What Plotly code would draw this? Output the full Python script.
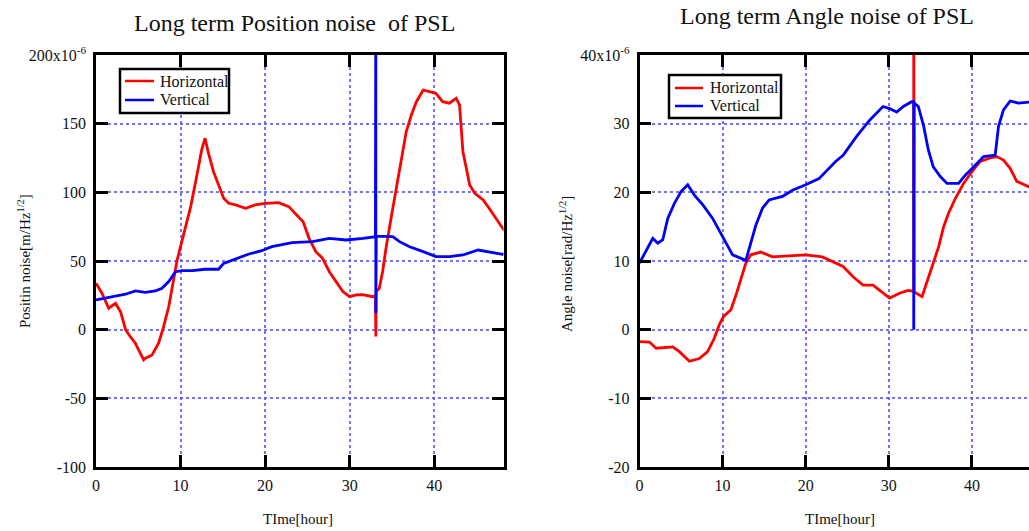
import plotly.graph_objects as go
from plotly.subplots import make_subplots

# ---- Position noise (left panel), units of 1e-6 m/Hz^1/2 ----
pos_h_time = [0, 0.7, 1.5, 2.3, 2.9, 3.5, 4.06, 4.65, 5.25, 5.64, 5.8, 6.63, 7.4, 8.0, 8.6,
              9.2, 9.6, 10.0, 10.6, 11.2, 11.75, 12.15, 12.5, 12.9, 13.3, 13.9, 14.5, 15.1,
              15.7, 16.5, 17.7, 18.85, 20.0, 21.6, 22.8, 24.0, 24.5, 25.2, 26.0, 26.8, 27.6,
              28.4, 29.2, 30.0, 30.8, 31.55, 32.7, 33.05, 33.1, 33.15, 33.5, 33.9, 34.3,
              34.9, 35.5, 36.1, 36.7, 37.3, 37.9, 38.7, 39.4, 40.2, 41.0, 41.8, 42.6, 43.0,
              43.2, 43.4, 43.8, 44.2, 44.8, 45.8, 46.5, 47.3, 48.1, 48.3]
pos_h_vals = [33.8, 26.5, 15.6, 19.2, 13.1, 0, -5.1, -9.9, -17.2, -22, -21, -18.4, -9.9, 2.2,
              16.7, 36.2, 50.8, 60.4, 75, 89.6, 106.6, 118.7, 130.9, 139.4, 128.5, 115, 105.4,
              95.7, 92, 90.8, 88.4, 90.8, 92, 92.5, 89.6, 82.3, 78.6, 66.5, 56.8, 52, 42.2,
              35, 27.7, 24, 25.3, 25.5, 24, 25, -5, 28, 30, 42.2, 59.3, 81.1, 103, 122.3,
              144.2, 156.3, 166, 174.5, 173.3, 172.1, 166, 164.9, 168.5, 163.6, 146.6, 129.6,
              117.5, 105.4, 99.3, 94.4, 88.4, 81.1, 73.8, 72]

pos_v_time = [0, 1.1, 2.3, 3.5, 4.65, 5.84, 7.0, 7.8, 8.6, 9.4, 10.2, 11.4, 12.9, 14.5, 15.1,
              16.5, 18.1, 19.6, 20.8, 23.2, 25.6, 27.6, 29.6, 31.6, 33.05, 33.1, 33.1, 33.15,
              33.9, 35.1, 35.9, 37.1, 38.7, 40.2, 41.8, 43.4, 45.2, 46.2, 48.1, 48.3]
pos_v_vals = [21.6, 22.9, 24.5, 25.8, 28.2, 27.2, 28.2, 30.1, 35, 42.2, 43, 43, 44, 44, 48.3,
              51.3, 55.1, 57.5, 60.4, 63.4, 64.1, 66.5, 65.3, 66.5, 67.7, 260, 12, 68, 68,
              67.7, 64.1, 60.4, 56.8, 53.2, 53.2, 54.4, 58, 56.8, 54.9, 55]

# ---- Angle noise (right panel), units of 1e-6 rad/Hz^1/2 ----
ang_h_time = [0, 1.2, 2.0, 2.8, 4.0, 4.8, 6.0, 7.2, 8.2, 9.0, 9.6, 10.1, 11.0, 11.6, 12.2,
              12.8, 13.4, 14.6, 16.0, 18.0, 20.0, 22.0, 23.6, 24.5, 25.7, 26.9, 28.1, 29.3,
              30.1, 31.3, 32.3, 33.0, 33.0, 33.05, 34.0, 34.75, 35.35, 36.0, 36.6, 37.2,
              38.0, 39.0, 40.0, 41.0, 42.2, 43.0, 43.8, 44.6, 45.4, 46.9, 47.5]
ang_h_vals = [-1.75, -1.8, -2.7, -2.6, -2.5, -3.2, -4.6, -4.2, -3.2, -1.25, 0.7, 1.9, 2.9,
              5.0, 7.5, 9.7, 10.9, 11.3, 10.6, 10.7, 10.9, 10.6, 9.7, 9.2, 7.7, 6.5, 6.5,
              5.3, 4.6, 5.3, 5.7, 5.6, 48, 5.5, 4.8, 7.7, 9.7, 12.1, 15.0, 17.0, 19.1, 21.3,
              23.0, 24.5, 25.0, 25.2, 24.7, 23.5, 21.6, 20.8, 20.5]

ang_v_time = [0, 0.78, 1.6, 2.2, 2.8, 3.4, 4.2, 5.0, 5.8, 6.6, 7.6, 8.8, 10.0, 11.2, 12.8,
              13.4, 14.0, 14.8, 15.6, 17.2, 18.4, 20.0, 21.6, 23.6, 24.5, 26.1, 27.7, 29.3,
              30.1, 30.95, 31.75, 32.75, 33.0, 33.0, 33.05, 33.55, 34.2, 34.75, 35.35, 36.2,
              37.0, 38.4, 39.2, 40.2, 41.4, 42.8, 43.2, 43.8, 44.6, 45.6, 46.9, 47.5]
ang_v_vals = [9.7, 11.4, 13.3, 12.6, 13.1, 16.2, 18.4, 20.1, 21.1, 19.6, 18.2, 16.2, 13.5,
              10.9, 10.1, 12.8, 15.2, 17.7, 18.9, 19.4, 20.3, 21.1, 22.0, 24.5, 25.4, 28.1,
              30.5, 32.5, 32.2, 31.7, 32.5, 33.2, 33.2, 0, 33.0, 32.5, 29.6, 26.2, 23.7,
              22.3, 21.3, 21.3, 22.5, 23.7, 25.2, 25.4, 29.6, 32.0, 33.3, 33.0, 33.2, 33.2]

x_ticks = [0, 10, 20, 30, 40]
pos_ticks = [-100, -50, 0, 50, 100, 150, 200]
pos_ticktext = ["-100", "-50", "0", "50", "100", "150", "200x10<sup>-6</sup>"]
ang_ticks = [-20, -10, 0, 10, 20, 30, 40]
ang_ticktext = ["-20", "-10", "0", "10", "20", "30", "40x10<sup>-6</sup>"]
series_names = ["Horizontal", "Vertical"]

RED = "#ff0000"
BLUE = "#0000ff"
INK = "#111111"
FONT = "Liberation Serif"
W, H = 1029, 531

fig = make_subplots(rows=1, cols=2)

fig.add_trace(go.Scatter(x=pos_h_time, y=pos_h_vals, mode="lines", name=series_names[0],
                         line=dict(color=RED, width=2.8)), row=1, col=1)
fig.add_trace(go.Scatter(x=pos_v_time, y=pos_v_vals, mode="lines", name=series_names[1],
                         line=dict(color=BLUE, width=2.8)), row=1, col=1)
fig.add_trace(go.Scatter(x=ang_h_time, y=ang_h_vals, mode="lines", name=series_names[0],
                         line=dict(color=RED, width=2.8)), row=1, col=2)
fig.add_trace(go.Scatter(x=ang_v_time, y=ang_v_vals, mode="lines", name=series_names[1],
                         line=dict(color=BLUE, width=2.8)), row=1, col=2)

common_axis = dict(
    showline=True, linecolor="black", linewidth=2.5,
    ticks="inside", ticklen=12, tickwidth=2.5, tickcolor="black",
    showgrid=True, gridcolor="rgba(90,90,255,0.85)", gridwidth=2, griddash="dot",
    zeroline=False, tickfont=dict(family=FONT, size=16, color=INK),
    automargin=False,
)

ytop = 1 - 55 / H
ybot = 1 - 467 / H

fig.update_xaxes(common_axis, mirror="allticks", tickvals=x_ticks, ticklabelstandoff=2)
fig.update_yaxes(common_axis, domain=[ybot, ytop], ticklabelstandoff=4)

fig.update_xaxes(range=[0, 48.2], domain=[96 / W, 503.5 / W], row=1, col=1)
fig.update_xaxes(range=[0, 46.87], domain=[639.5 / W, 1.0], row=1, col=2)
fig.update_yaxes(range=[-100, 200], tickvals=pos_ticks, ticktext=pos_ticktext,
                 mirror="allticks", row=1, col=1)
fig.update_yaxes(range=[-20, 40], tickvals=ang_ticks, ticktext=ang_ticktext,
                 mirror=False, row=1, col=2)

annotations = [
    dict(text="Long term Position noise  of PSL", x=294 / W, y=1 - 23 / H,
         font=dict(size=24)),
    dict(text="Long term Angle noise of PSL", x=827 / W, y=1 - 16 / H,
         font=dict(size=24)),
    dict(text="TIme[hour]", x=298 / W, y=1 - 519 / H, font=dict(size=15)),
    dict(text="TIme[hour]", x=840 / W, y=1 - 519 / H, font=dict(size=15)),
    dict(text="Positin noise[m/Hz<sup>1/2</sup>]", x=24 / W, y=1 - 261 / H,
         textangle=-90, font=dict(size=15)),
    dict(text="Angle noise[rad/Hz<sup>1/2</sup>]", x=566 / W, y=1 - 264 / H,
         textangle=-90, font=dict(size=15)),
]

# Boxed key for each panel: frame, colour sample and label per series
shapes = []
legend_boxes = [
    # (left, top, right, bottom, sample x0, sample x1, label x, row y positions)
    (120, 69, 229, 113, 125, 154, 158, (81, 100)),
    (669, 75, 781, 118, 675, 703, 708, (88, 106)),
]
for (bx0, by0, bx1, by1, sx0, sx1, tx, rows) in legend_boxes:
    shapes.append(dict(type="rect", xref="paper", yref="paper",
                       x0=bx0 / W, x1=bx1 / W, y0=1 - by0 / H, y1=1 - by1 / H,
                       line=dict(color="black", width=2.5), fillcolor="white",
                       layer="above"))
    for name, colour, ry in zip(series_names, [RED, BLUE], rows):
        shapes.append(dict(type="line", xref="paper", yref="paper",
                           x0=sx0 / W, x1=sx1 / W, y0=1 - ry / H, y1=1 - ry / H,
                           line=dict(color=colour, width=2.5), layer="above"))
        annotations.append(dict(text=name, x=tx / W, y=1 - ry / H, xanchor="left",
                                font=dict(size=16)))

for a in annotations:
    a.update(xref="paper", yref="paper", showarrow=False, yanchor="middle")
    a.setdefault("xanchor", "center")
    a["font"].update(family=FONT, color=INK)

fig.update_layout(
    template="none",
    width=W, height=H,
    margin=dict(l=0, r=0, t=0, b=0, pad=0, autoexpand=False),
    paper_bgcolor="white", plot_bgcolor="white",
    font=dict(family=FONT, color=INK),
    showlegend=False,
    annotations=annotations,
    shapes=shapes,
)

fig.write_html("out.html")
